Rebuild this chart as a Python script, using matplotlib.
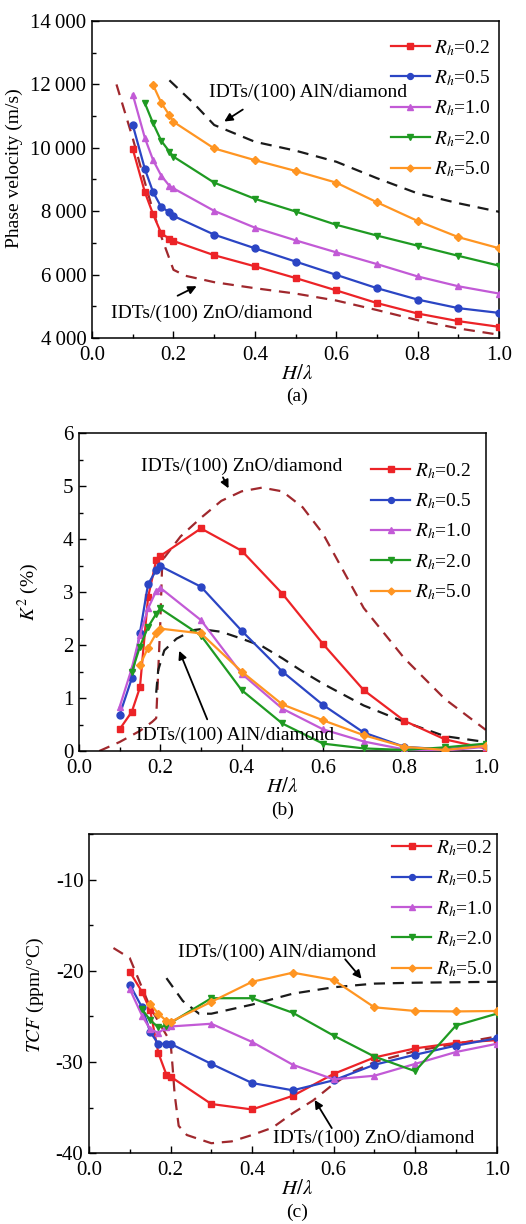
import matplotlib
matplotlib.use("Agg")
import matplotlib.pyplot as plt
from matplotlib.ticker import MultipleLocator

plt.rcParams["font.family"] = ["Liberation Serif", "DejaVu Serif"]
plt.rcParams["mathtext.fontset"] = "stix"
plt.rcParams["font.size"] = 14

# ---------------- data ----------------
labels = ["$R_h$=0.2", "$R_h$=0.5", "$R_h$=1.0", "$R_h$=2.0", "$R_h$=5.0"]
colors = ["#ec2327", "#2b45c4", "#c25ad6", "#1f9a22", "#ff9522"]
markers = ["s", "o", "^", "v", "D"]

x_full = [0.1, 0.13, 0.15, 0.17, 0.19, 0.2, 0.3, 0.4, 0.5, 0.6, 0.7, 0.8, 0.9, 1.0]
x_rh2 = x_full[1:]
x_rh5 = x_full[2:]

# (a) phase velocity (m/s)
vel_02 = [9960, 8590, 7900, 7300, 7130, 7060, 6610, 6260, 5890, 5500, 5100, 4770, 4530, 4350]
vel_05 = [10720, 9320, 8600, 8130, 7970, 7850, 7260, 6830, 6410, 5990, 5570, 5210, 4940, 4790]
vel_10 = [11680, 10300, 9610, 9120, 8800, 8720, 8010, 7480, 7080, 6700, 6330, 5940, 5630, 5400]
vel_20 = [11400, 10770, 10220, 9880, 9720, 8900, 8390, 7990, 7570, 7230, 6910, 6590, 6280]
vel_50 = [11980, 11420, 11030, 10820, 9980, 9610, 9270, 8900, 8280, 7690, 7180, 6830]

x_aln_a = [0.19, 0.25, 0.3, 0.4, 0.5, 0.6, 0.7, 0.8, 0.9, 1.0]
vel_aln = [12130, 11400, 10720, 10190, 9910, 9560, 9040, 8560, 8250, 7980]
x_zno_a = [0.06, 0.1, 0.13, 0.15, 0.17, 0.19, 0.2, 0.23, 0.3, 0.4, 0.5, 0.6, 0.7, 0.8, 0.9, 1.0]
vel_zno = [12000, 10300, 8900, 8000, 7200, 6500, 6150, 5960, 5760, 5570, 5400, 5180, 4880, 4560, 4300, 4100]

# (b) K2 (%)
k2_02 = [0.41, 0.74, 1.2, 2.9, 3.6, 3.68, 4.2, 3.78, 2.97, 2.02, 1.15, 0.57, 0.22, 0.05]
k2_05 = [0.68, 1.37, 2.23, 3.15, 3.41, 3.49, 3.10, 2.27, 1.50, 0.87, 0.35, 0.08, 0.03, 0.11]
k2_10 = [0.83, 1.56, 2.19, 2.69, 3.02, 3.08, 2.47, 1.46, 0.80, 0.41, 0.18, 0.03, 0.01, 0.08]
k2_20 = [1.49, 1.97, 2.34, 2.59, 2.69, 2.18, 1.15, 0.52, 0.14, 0.05, 0.02, 0.07, 0.14]
k2_50 = [1.62, 1.95, 2.22, 2.31, 2.22, 1.50, 0.88, 0.58, 0.30, 0.08, 0.02, 0.10]

x_zno_b = [0.05, 0.10, 0.15, 0.18, 0.19, 0.195, 0.20, 0.205, 0.25, 0.30, 0.35, 0.40, 0.45,
           0.50, 0.55, 0.60, 0.65, 0.70, 0.80, 0.90, 1.00]
k2_zno = [0.0, 0.17, 0.38, 0.55, 0.62, 1.5, 2.4, 3.6, 4.05, 4.4, 4.72, 4.9, 4.97,
          4.9, 4.6, 4.1, 3.4, 2.7, 1.75, 0.98, 0.4]
x_aln_b = [0.19, 0.195, 0.21, 0.24, 0.28, 0.3, 0.35, 0.4, 0.45, 0.5, 0.55, 0.6, 0.7, 0.8, 0.9, 1.0]
k2_aln = [1.1, 1.53, 1.9, 2.12, 2.28, 2.3, 2.25, 2.12, 1.98, 1.75, 1.5, 1.27, 0.86, 0.55, 0.28, 0.17]

# (c) TCF (ppm/C)
tcf_02 = [-20.1, -22.3, -24.3, -29.0, -31.4, -31.6, -34.6, -35.2, -33.7, -31.3, -29.5, -28.5, -27.9, -27.6]
tcf_05 = [-21.5, -24.0, -26.7, -28.0, -28.0, -28.0, -30.2, -32.3, -33.1, -32.0, -30.3, -29.2, -28.2, -27.4]
tcf_10 = [-22.0, -24.9, -26.4, -26.8, -26.2, -26.1, -25.8, -27.8, -30.3, -31.9, -31.5, -30.2, -28.9, -28.0]
tcf_20 = [-24.2, -25.4, -26.2, -26.0, -25.7, -23.0, -23.0, -24.6, -27.1, -29.4, -31.0, -26.0, -24.7]
tcf_50 = [-23.6, -24.7, -25.5, -25.6, -23.4, -21.2, -20.2, -21.0, -24.0, -24.4, -24.45, -24.4]

x_zno_c = [0.06, 0.1, 0.125, 0.15, 0.18, 0.2, 0.205, 0.21, 0.22, 0.24, 0.3, 0.35, 0.4, 0.45,
           0.5, 0.55, 0.6, 0.65, 0.7, 0.8, 0.9, 1.0]
tcf_zno = [-17.5, -18.6, -21.3, -24.0, -26.3, -27.8, -30.5, -33.5, -37.0, -38.0, -38.9, -38.7,
           -38.0, -37.2, -35.6, -34.2, -32.4, -31.0, -30.0, -28.8, -28.0, -27.2]
x_aln_c = [0.19, 0.23, 0.27, 0.3, 0.35, 0.4, 0.45, 0.5, 0.6, 0.7, 0.8, 0.9, 1.0]
tcf_aln = [-20.8, -23.3, -24.7, -24.7, -24.2, -23.7, -23.1, -22.5, -21.8, -21.4, -21.3, -21.25, -21.2]

xs = [x_full, x_full, x_full, x_rh2, x_rh5]
panels = [
    [vel_02, vel_05, vel_10, vel_20, vel_50],
    [k2_02, k2_05, k2_10, k2_20, k2_50],
    [tcf_02, tcf_05, tcf_10, tcf_20, tcf_50],
]
vel_ticks = [4000, 6000, 8000, 10000, 12000, 14000]
vel_ticklabels = ["4\u2009000", "6\u2009000", "8\u2009000", "10\u2009000", "12\u2009000", "14\u2009000"]

# ---------------- figure ----------------
fig = plt.figure(figsize=(5.26, 12.24), dpi=100)
ax_a = fig.add_axes([0.175, 0.7239, 0.774, 0.2589])
ax_b = fig.add_axes([0.150, 0.3864, 0.7734, 0.2598])
ax_c = fig.add_axes([0.1692, 0.0578, 0.7751, 0.2608])
axes = [ax_a, ax_b, ax_c]

dash_zno = "#a0282d"
dash_aln = "#1a1a1a"
dash_style = (0, (5, 3.5))

for ax, ydata in zip(axes, panels):
    for x, y, c, m, lab in zip(xs, ydata, colors, markers, labels):
        ax.plot(x, y, color=c, marker=m, markersize=5 if m != "D" else 4.2,
                linewidth=1.6, label=lab, zorder=3)
    ax.set_xlim(0, 1.0)
    ax.xaxis.set_major_locator(MultipleLocator(0.2))
    ax.xaxis.set_minor_locator(MultipleLocator(0.1))
    ax.tick_params(which="both", direction="in", top=False, right=False, labelsize=15)
    ax.tick_params(axis="y", pad=4)
    ax.tick_params(axis="x", pad=5.5)
    ax.tick_params(which="major", length=5, width=1)
    ax.tick_params(which="minor", length=3, width=1)
    for s in ax.spines.values():
        s.set_linewidth(1.1)
    ax.set_xticks([0, 0.2, 0.4, 0.6, 0.8, 1.0])
    ax.set_xticklabels(["0.0", "0.2", "0.4", "0.6", "0.8", "1.0"])

# dashed reference curves
ax_a.plot(x_aln_a, vel_aln, color=dash_aln, ls=dash_style, lw=1.6, zorder=2)
ax_a.plot(x_zno_a, vel_zno, color=dash_zno, ls=dash_style, lw=1.6, zorder=2)
ax_b.plot(x_zno_b, k2_zno, color=dash_zno, ls=dash_style, lw=1.6, zorder=2)
ax_b.plot(x_aln_b, k2_aln, color=dash_aln, ls=dash_style, lw=1.6, zorder=2)
ax_c.plot(x_zno_c, tcf_zno, color=dash_zno, ls=dash_style, lw=1.6, zorder=2)
ax_c.plot(x_aln_c, tcf_aln, color=dash_aln, ls=dash_style, lw=1.6, zorder=2)

# axis settings
ax_a.set_ylim(4000, 14000)
ax_a.set_yticks(vel_ticks)
ax_a.set_yticklabels(vel_ticklabels)
ax_a.yaxis.set_minor_locator(MultipleLocator(1000))
ax_a.set_ylabel("Phase velocity (m/s)", fontsize=14)
ax_a.yaxis.set_label_coords(-0.17, 0.536)

ax_b.set_ylim(0, 6)
ax_b.yaxis.set_major_locator(MultipleLocator(1))
ax_b.yaxis.set_minor_locator(MultipleLocator(0.5))
ax_b.set_ylabel("$K^2$ (%)", fontsize=14)
ax_b.yaxis.set_label_coords(-0.092, 0.5)

ax_c.set_ylim(-40, -5)
ax_c.set_yticks([-40, -30, -20, -10])
ax_c.set_yticklabels(["-40", "-30", "-20", "-10"])
ax_c.yaxis.set_minor_locator(MultipleLocator(5))
ax_c.set_ylabel("$TCF$ (ppm/\u00b0C)", fontsize=14)
ax_c.yaxis.set_label_coords(-0.105, 0.495)

for ax, cap, cx in zip(axes, ["(a)", "(b)", "(c)"], [0.504, 0.50, 0.51]):
    ax.text(cx, -0.115, "$H/\\lambda$", transform=ax.transAxes, ha="center", va="center", fontsize=15)
    ax.text(cx, -0.185, cap, transform=ax.transAxes, ha="center", va="center", fontsize=14)

# legends
for ax, anchor in zip(axes, [(0.70, 0.99), (0.685, 0.955), (0.71, 1.03)]):
    ax.legend(loc="upper left", bbox_to_anchor=anchor, frameon=False, fontsize=14,
              handlelength=2.0, handletextpad=0.25, labelspacing=0.55, borderpad=0.2,
              markerscale=0.85)

# annotations
arw = dict(arrowstyle="-|>", color="black", lw=1.3, mutation_scale=12)
ax_a.text(0.53, 11760, "IDTs/(100) AlN/diamond", ha="center", va="center", fontsize=14)
ax_a.annotate("", xy=(0.319, 10782), xytext=(0.376, 11255), arrowprops=arw)
ax_a.text(0.295, 4789, "IDTs/(100) ZnO/diamond", ha="center", va="center", fontsize=14)
ax_a.annotate("", xy=(0.263, 5672), xytext=(0.204, 5293), arrowprops=arw)

ax_b.text(0.40, 5.38, "IDTs/(100) ZnO/diamond", ha="center", va="center", fontsize=14)
ax_b.annotate("", xy=(0.371, 4.91), xytext=(0.351, 5.21), arrowprops=arw)
ax_b.text(0.385, 0.30, "IDTs/(100) AlN/diamond", ha="center", va="center", fontsize=14)
ax_b.annotate("", xy=(0.244, 1.94), xytext=(0.318, 0.55), arrowprops=arw)

ax_c.text(0.462, -17.96, "IDTs/(100) AlN/diamond", ha="center", va="center", fontsize=14)
ax_c.annotate("", xy=(0.673, -21.1), xytext=(0.624, -18.5), arrowprops=arw)
ax_c.text(0.699, -38.4, "IDTs/(100) ZnO/diamond", ha="center", va="center", fontsize=14)
ax_c.annotate("", xy=(0.55, -33.9), xytext=(0.599, -37.5), arrowprops=arw)

fig.savefig("out.png", dpi=100)
